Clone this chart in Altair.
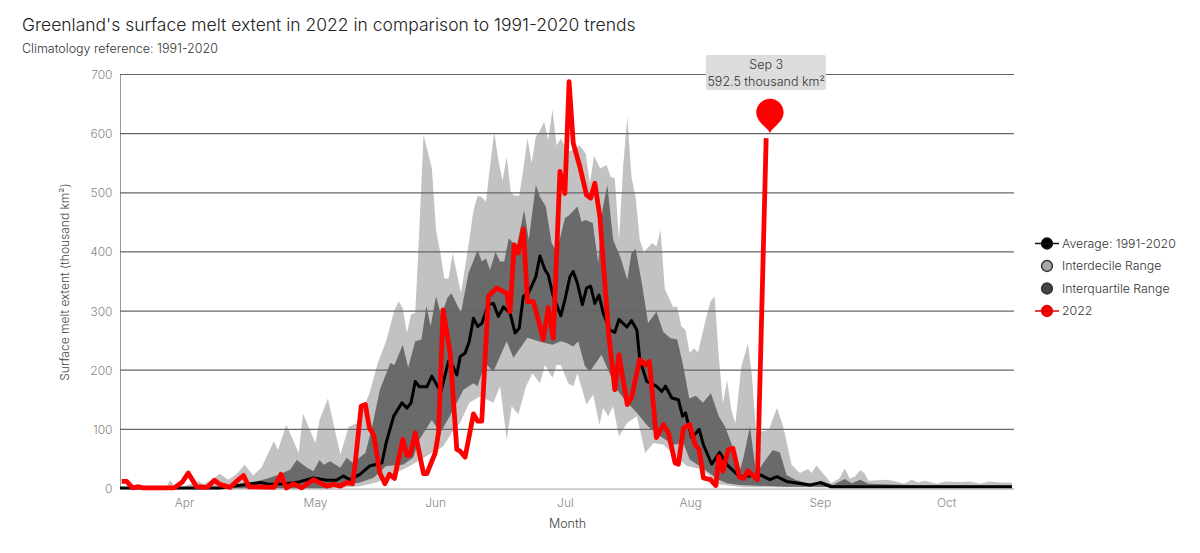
import altair as alt
import pandas as pd

FONT = "Inter"
TITLE = "Greenland's surface melt extent in 2022 in comparison to 1991-2020 trends"
SUBTITLE = "Climatology reference: 1991-2020"

MONTHS = ["Apr", "May", "Jun", "Jul", "Aug", "Sep", "Oct"]
MONTH_DAYS = [15.4, 46.9, 75.8, 107, 137.1, 168.3, 198.7]
GRID_VALUES = [100, 200, 300, 400, 500, 600, 700]

P90_DAY = [0, 11, 12, 13, 15, 18, 19, 20, 22, 24, 26, 28, 30, 32, 34, 37, 38, 40, 43, 44, 47, 48, 50, 53, 55, 57, 60, 62, 64, 66, 67, 68, 69, 70, 71, 72, 73, 75, 76, 77, 78, 79, 80, 82, 84, 85, 86, 87, 88, 89, 90, 91, 92, 93, 94, 95, 96, 97, 98, 99, 100, 101, 102, 103, 104, 105, 106, 107, 108, 110.6, 112, 113, 114, 115.5, 117, 118, 119, 120, 121, 122, 123, 124, 125, 126, 128, 129, 130, 131, 133, 134, 135, 136, 137, 138, 139, 141, 142, 143, 144, 145, 146, 147, 148, 149.4, 151, 152, 153, 154, 156, 158, 159.5, 161.5, 163.5, 165.5, 166.3, 167.5, 169, 171, 173, 174.3, 175.5, 176.7, 178, 179, 180, 184.4, 186.8, 188.5, 190.4, 192, 193.6, 196.4, 198.4, 202, 204.4, 206.8, 209, 211.6, 214.5]
P90_VAL = [0, 0, 14, 5, 3, 10, 12, 7, 14, 25, 15, 24, 40, 22, 35, 80, 65, 108, 60, 127, 77, 116, 152, 57, 105, 110, 161, 212, 249, 302, 316, 305, 263, 294, 297, 440, 598, 541, 437, 400, 355, 355, 398, 330, 420, 470, 495, 493, 485, 545, 603, 555, 520, 561, 500, 495, 495, 540, 592, 550, 595, 605, 620, 589, 641, 580, 592, 578, 570, 580, 566, 516, 562, 541, 547, 527, 524, 420, 544, 628, 527, 493, 420, 400, 415, 409, 437, 338, 307, 308, 274, 268, 229, 237, 230, 290, 316, 325, 223, 144, 183, 133, 110, 206, 245, 189, 93, 96, 99, 136, 105, 40, 26, 33, 26, 39, 26, 9, 17, 34, 17, 20, 31, 26, 13, 15, 12, 8, 15, 10, 13, 8, 12, 11, 12, 8, 12, 10, 10]

P75_DAY = [0, 26, 32, 36, 38.5, 41, 42.5, 45, 46.5, 48, 49, 50.5, 53, 54.5, 56, 59, 60.5, 62.5, 65, 66, 68, 69.3, 71, 72.5, 73.7, 74.7, 76, 77.3, 78.7, 79.7, 82, 83.8, 86, 87, 88, 89, 90.3, 91.4, 92.4, 93.5, 95.4, 97.2, 98.3, 100, 101, 102.4, 103.8, 105, 107, 108, 110, 111, 112, 113.7, 115, 116, 117.2, 118.6, 120.3, 122, 123, 124, 125.5, 127, 129, 130.7, 132.4, 134, 135.5, 136.9, 138.5, 140.2, 142.1, 144, 145.5, 147, 149, 150, 151.5, 153, 155, 157, 158.7, 160.3, 162.4, 166.7, 168.7, 171.5, 174.3, 176, 178, 180, 190, 200, 214.5]
P75_VAL = [0, 0, 10, 18, 24, 32, 48, 35, 29, 48, 40, 46, 35, 52, 43, 60, 100, 167, 212, 209, 243, 204, 249, 252, 309, 274, 325, 291, 322, 330, 297, 364, 403, 384, 389, 370, 400, 384, 384, 423, 409, 471, 420, 513, 493, 477, 415, 400, 457, 462, 477, 451, 454, 449, 381, 471, 513, 420, 392, 353, 398, 405, 347, 280, 299, 264, 254, 252, 206, 152, 157, 145, 161, 122, 105, 77, 29, 54, 105, 25, 46, 65, 61, 23, 15, 6, 13, 6, 16, 9, 15, 8, 6, 5, 5]

P25_DAY = [0, 50, 57.7, 61, 64, 68, 70.5, 72, 75, 77, 79.3, 82.6, 85, 86, 87.8, 89.8, 93, 94.6, 96, 98, 101, 104, 106, 107.4, 109, 110.2, 111.8, 113, 115.8, 119.5, 122, 124.3, 127, 130, 133, 135.5, 137, 140, 144, 146, 149, 160, 214.5]
P25_VAL = [0, 1, 10, 18, 38, 40, 52, 83, 116, 94, 122, 167, 178, 173, 212, 198, 249, 221, 235, 255, 248, 243, 249, 246, 240, 249, 207, 198, 226, 167, 145, 128, 105, 88, 74, 77, 49, 35, 15, 9, 6, 3, 2]

P10_DAY = [0, 50, 57.7, 61.7, 65.7, 69.7, 73.7, 77.7, 80, 81.8, 84, 86.6, 89.8, 91.4, 93, 94.2, 95.8, 97.6, 99.2, 101, 102.2, 104, 105, 106, 107.8, 109, 110, 112.2, 113.8, 115.3, 116.2, 117.4, 118.6, 120, 122, 124.3, 126.3, 128.3, 130.7, 134, 136.3, 140, 144, 150, 214.5]
P10_VAL = [0, 0, 4, 10, 24, 38, 55, 71, 97, 111, 145, 156, 145, 173, 83, 139, 125, 172, 195, 178, 209, 187, 209, 209, 178, 173, 195, 142, 159, 108, 136, 122, 139, 88, 111, 122, 60, 77, 74, 52, 38, 32, 7, 2, 1]

MEAN_DAY = [0, 24, 33.7, 36, 40, 43, 46.5, 49.7, 52, 53.7, 55.3, 57.7, 60, 63, 64, 65.8, 67.8, 69, 70, 71, 72, 73.8, 75, 76.6, 77.2, 79, 79.7, 81, 81.8, 83, 84, 85, 86, 87, 88.6, 89.8, 91, 92.2, 93.8, 95, 96, 97, 98.2, 100, 101, 102.2, 103, 104.2, 106, 107, 108.2, 109, 110, 111.2, 112.2, 113.2, 114.2, 115.2, 116.2, 117.8, 119, 120, 121.9, 123, 124.3, 125, 126.7, 129, 130.3, 131.2, 132.7, 134.3, 135.3, 136, 137.5, 139.3, 140.3, 142.3, 144.2, 146, 149, 154, 156.3, 158, 160.3, 166, 168.4, 171, 180, 195, 214.5]
MEAN_VAL = [1, 1, 10, 7, 8, 11, 18, 14, 14, 21, 15, 24, 38, 43, 77, 122, 145, 136, 145, 181, 172, 172, 190, 170, 164, 215, 212, 192, 223, 229, 249, 288, 274, 279, 311, 313, 291, 307, 297, 263, 271, 325, 330, 358, 393, 370, 361, 325, 292, 319, 358, 367, 347, 311, 339, 342, 313, 327, 297, 268, 264, 286, 273, 284, 268, 218, 181, 173, 164, 173, 153, 150, 122, 128, 86, 100, 74, 41, 61, 40, 20, 23, 15, 20, 12, 6, 10, 3, 3, 3, 3]

RED_DAY = [0.4, 1.6, 3, 4.4, 5.6, 13, 15, 16.4, 18.4, 21, 22.7, 24, 26.5, 28, 29.7, 31, 37, 38.7, 40, 41.7, 43.7, 46.5, 49.7, 51.3, 53, 54.5, 55.9, 56.5, 58, 59, 60, 61, 62.5, 63.7, 64.8, 66, 68, 69, 69.8, 71, 73, 73.8, 75.8, 76.6, 77.7, 79.4, 81, 81.8, 83, 85, 86, 87, 88.6, 90.6, 93, 93.8, 94.8, 95.8, 97, 98, 99.4, 100.6, 101.8, 103, 104.2, 105.8, 107, 108, 109, 110.6, 112.2, 113.2, 114.2, 115.4, 117.5, 119, 120, 122, 123, 125, 126.3, 127.3, 129, 130.7, 131.9, 133.5, 134.3, 135.5, 137, 138.3, 139.3, 140.3, 142, 143.3, 144, 145, 146.3, 147.4, 149, 150, 151, 153.3, 155.4]
RED_VAL = [12, 12, 1, 3, 1, 1, 11, 26, 3, 2, 14, 7, 2, 12, 22, 3, 2, 24, 1, 8, 1, 15, 4, 7, 4, 10, 8, 38, 139, 142, 102, 91, 26, 8, 24, 17, 83, 56, 57, 94, 25, 25, 60, 94, 302, 229, 66, 63, 53, 126, 114, 114, 325, 339, 330, 299, 412, 398, 439, 316, 316, 285, 252, 306, 254, 536, 499, 688, 584, 544, 496, 491, 516, 460, 263, 167, 226, 142, 153, 218, 209, 215, 86, 108, 94, 43, 41, 102, 108, 74, 66, 18, 15, 5, 54, 29, 66, 68, 19, 17, 30, 15, 592.5]

LEGEND_NAMES = ["Average: 1991-2020", "Interdecile Range", "Interquartile Range", "2022"]
LEGEND_FILL = ["#000000", "#a8a8a8", "#444444", "#ff0000"]
LEGEND_STROKE = ["#111111", "#333333", "#333333", "#e00000"]
CIRCLE = "M-0.45,0A0.45,0.45 0 1,1 0.45,0A0.45,0.45 0 1,1 -0.45,0Z"
LINE_CIRCLE = "M-1,0L1,0" + CIRCLE
LEGEND_SHAPE = [LINE_CIRCLE, CIRCLE, CIRCLE, LINE_CIRCLE]
PIN = "M0,0C-0.16,-0.4 -1,-0.8 -1,-1.5A1,1 0 1,1 1,-1.5C1,-0.8 0.16,-0.4 0,0Z"

LABEL_BOX = {"d1": [140.9], "d2": [169.8], "v1": [733], "v2": [674]}
LABEL_TEXT = {"d": [155.4, 155.4], "v": [716, 687], "t": ["Sep 3", "592.5 thousand km²"]}
PIN_POINT = {"d": [156.3], "v": [601]}

x_scale = alt.Scale(domain=[0, 215], nice=False, zero=False)
y_scale = alt.Scale(domain=[0, 700], nice=False)
x_axis = alt.Axis(
    values=MONTH_DAYS,
    labelExpr="['" + "','".join(MONTHS) + "'][round(datum.index*6)]",
    title="Month", grid=False, ticks=False, domain=True, domainColor="#999999",
    labelColor="#888888", labelFontSize=12, labelFont=FONT, labelFontWeight=300, labelPadding=9,
    titleColor="#444444", titleFontSize=12.5, titleFont=FONT, titleFontWeight=300, titlePadding=9,
)
y_axis = alt.Axis(
    values=[0] + GRID_VALUES, title="Surface melt extent (thousand km²)", grid=False, ticks=False,
    domain=True, domainColor="#999999", labelColor="#888888", labelFontSize=12, labelFont=FONT,
    labelFontWeight=300, labelPadding=8, titleColor="#444444", titleFontSize=12, titleFont=FONT,
    titleFontWeight=300, titlePadding=18,
)


def frame(days, vals):
    return pd.DataFrame({"day": days, "value": vals})


def enc(chart):
    return chart.encode(
        x=alt.X("day:Q", scale=x_scale, axis=x_axis),
        y=alt.Y("value:Q", scale=y_scale, axis=y_axis),
    )


band_p90 = enc(alt.Chart(frame(P90_DAY, P90_VAL)).mark_area(color="#c2c2c2"))
band_p75 = enc(alt.Chart(frame(P75_DAY, P75_VAL)).mark_area(color="#6a6a6a"))
band_p25 = enc(alt.Chart(frame(P25_DAY, P25_VAL)).mark_area(color="#c2c2c2"))
band_p10 = enc(alt.Chart(frame(P10_DAY, P10_VAL)).mark_area(color="#ffffff"))

grid = alt.Chart(pd.DataFrame({"value": GRID_VALUES})).mark_rule(color="#666666", strokeWidth=1.2).encode(
    y=alt.Y("value:Q", scale=y_scale, axis=y_axis)
)

mean_line = enc(alt.Chart(frame(MEAN_DAY, MEAN_VAL)).mark_line(color="#000000", strokeWidth=3, strokeJoin="round"))
red_line = enc(alt.Chart(frame(RED_DAY, RED_VAL)).mark_line(color="#ff0000", strokeWidth=4.8, strokeJoin="round", clip=False))

box = alt.Chart(pd.DataFrame(LABEL_BOX)).mark_rect(color="#dddddd", cornerRadius=2, clip=False).encode(
    x=alt.X("d1:Q", scale=x_scale, axis=x_axis), x2="d2:Q",
    y=alt.Y("v1:Q", scale=y_scale, axis=y_axis), y2="v2:Q",
)
box_text = alt.Chart(pd.DataFrame(LABEL_TEXT)).mark_text(
    font=FONT, fontSize=12.5, fontWeight=300, color="#333333", clip=False
).encode(
    x=alt.X("d:Q", scale=x_scale, axis=x_axis),
    y=alt.Y("v:Q", scale=y_scale, axis=y_axis),
    text="t:N",
)
pin = alt.Chart(pd.DataFrame(PIN_POINT)).mark_point(
    shape=PIN, size=750, filled=True, color="#ff0000", opacity=1, clip=False
).encode(
    x=alt.X("d:Q", scale=x_scale, axis=x_axis),
    y=alt.Y("v:Q", scale=y_scale, axis=y_axis),
)

legend = alt.Legend(
    title=None, orient="none", legendX=914, legendY=156, symbolSize=576, symbolStrokeWidth=1.5,
    symbolOpacity=1, labelFont=FONT, labelFontSize=12.3, labelFontWeight=300, labelColor="#333333",
    labelOffset=2, rowPadding=0.5, padding=0,
)
legend_layer = alt.Chart(
    pd.DataFrame({"series": LEGEND_NAMES, "day": [None] * 4, "value": [None] * 4})
).mark_point(filled=True, opacity=1).encode(
    x=alt.X("day:Q", scale=x_scale, axis=x_axis),
    y=alt.Y("value:Q", scale=y_scale, axis=y_axis),
    fill=alt.Fill("series:N", scale=alt.Scale(domain=LEGEND_NAMES, range=LEGEND_FILL), legend=legend),
    stroke=alt.Stroke("series:N", scale=alt.Scale(domain=LEGEND_NAMES, range=LEGEND_STROKE), legend=legend),
    shape=alt.Shape("series:N", scale=alt.Scale(domain=LEGEND_NAMES, range=LEGEND_SHAPE), legend=legend),
)

chart = alt.layer(
    band_p90, band_p75, band_p25, band_p10, grid, mean_line, red_line, box, box_text, pin, legend_layer
).properties(
    width=894,
    height=414,
    autosize=alt.AutoSizeParams(type="none"),
    padding={"left": 112, "top": 66.5, "right": 170, "bottom": 50},
    title=alt.TitleParams(
        text=TITLE, subtitle=SUBTITLE, anchor="start", frame="group", dx=-98, offset=-1,
        font=FONT, fontSize=17.5, fontWeight=300, color="#222222",
        subtitleFont=FONT, subtitleFontSize=12.5, subtitleFontWeight=300, subtitleColor="#333333",
        subtitlePadding=9,
    ),
).configure_view(stroke=None)

chart.save("out.html", embed_options={"renderer": "svg", "actions": False})
